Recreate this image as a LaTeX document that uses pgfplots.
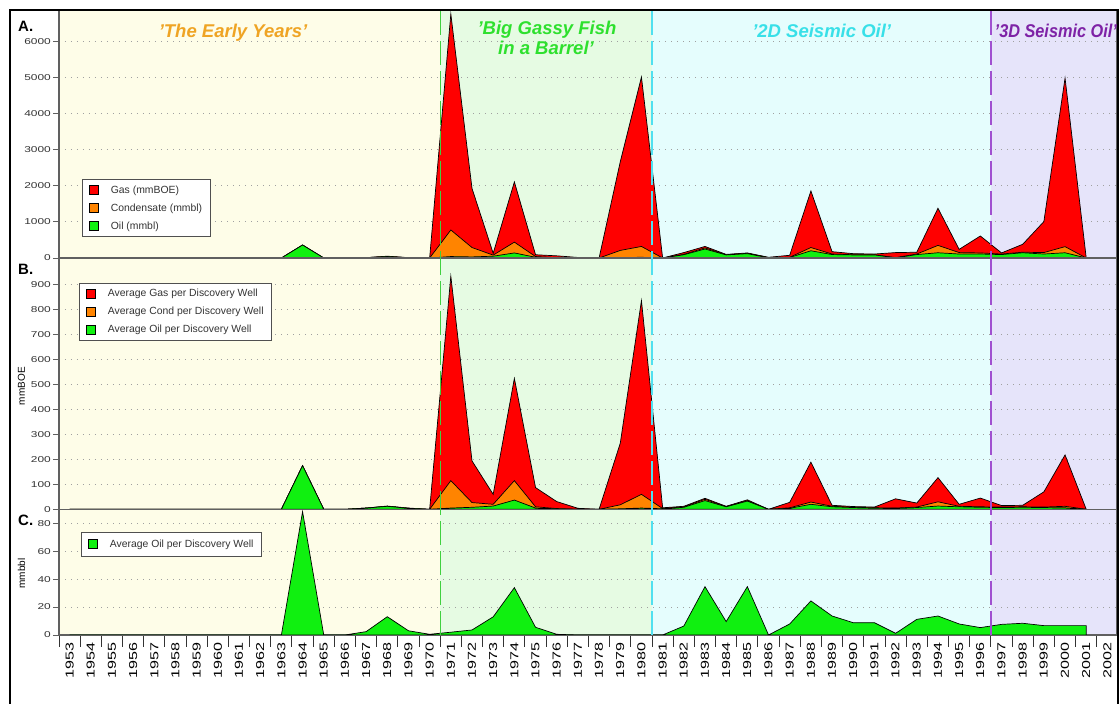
\documentclass[border=0pt]{standalone}
\usepackage{pgfplots}
\pgfplotsset{compat=1.18}
\usepackage{pgfplotstable}
\usepackage{fontspec}
\setmainfont{Liberation Sans}
\newfontfamily\stretchfont[FakeStretch=1.4]{Liberation Sans}
\newfontfamily\labfont[FakeStretch=1.3]{Liberation Sans}

\definecolor{bgearly}{HTML}{FEFDE8}
\definecolor{bggassy}{HTML}{E6FBE3}
\definecolor{bgtwod}{HTML}{E5FDFD}
\definecolor{bgthreed}{HTML}{E6E4FA}
\definecolor{gasred}{HTML}{FF0000}
\definecolor{condorange}{HTML}{FF8400}
\definecolor{oilgreen}{HTML}{10F010}
\definecolor{axisgray}{HTML}{606060}
\definecolor{gridgray}{HTML}{A0A0A0}
\definecolor{ticktext}{HTML}{333333}
\definecolor{legendgray}{HTML}{505050}
\definecolor{tearly}{HTML}{EFA424}
\definecolor{tgassy}{HTML}{2EE02E}
\definecolor{ttwod}{HTML}{38E0E8}
\definecolor{tthreed}{HTML}{7E22A6}
\definecolor{lgreen}{HTML}{40D040}
\definecolor{lcyan}{HTML}{50E0F0}
\definecolor{lpurple}{HTML}{A050D0}

\pgfplotstableread{
year gas cond oil
1953 0 0 0
1954 0 0 0
1955 0 0 0
1956 0 0 0
1957 0 0 0
1958 0 0 0
1959 0 0 0
1960 0 0 0
1961 0 0 0
1962 0 0 0
1963 0 0 0
1964 360 360 360
1965 0 0 0
1966 0 0 0
1967 10 10 10
1968 50 42 40
1969 10 8 8
1970 0 0 0
1971 6770 777 40
1972 1930 290 30
1973 130 80 50
1974 2110 440 140
1975 90 40 20
1976 60 10 5
1977 15 0 0
1978 0 0 0
1979 2670 210 10
1980 5020 320 20
1981 0 0 0
1982 150 100 90
1983 320 280 250
1984 100 90 85
1985 140 130 120
1986 20 10 5
1987 75 20 15
1988 1860 290 200
1989 175 110 95
1990 120 90 85
1991 110 90 85
1992 150 10 5
1993 160 110 95
1994 1380 350 145
1995 240 150 110
1996 610 140 110
1997 140 110 95
1998 380 160 145
1999 1010 150 110
2000 4990 315 145
2001 0 0 0
}\dataA

\pgfplotstableread{
year gas cond oil
1953 0 0 0
1954 0 0 0
1955 0 0 0
1956 0 0 0
1957 0 0 0
1958 0 0 0
1959 0 0 0
1960 0 0 0
1961 0 0 0
1962 0 0 0
1963 0 0 0
1964 175 175 175
1965 0 0 0
1966 0 0 0
1967 5 5 5
1968 13 12 12
1969 5 4 4
1970 0 0 0
1971 935 115 5
1972 194 27 8
1973 60 20 13
1974 525 115 37
1975 87 10 5
1976 31 3 2
1977 4 0 0
1978 0 0 0
1979 265 18 2
1980 837 60 5
1981 6 3 2
1982 12 10 8
1983 44 40 35
1984 12 11 10
1985 38 35 33
1986 0 0 0
1987 28 6 4
1988 189 29 20
1989 16 12 10
1990 11 8 7
1991 9 6 5
1992 42 5 4
1993 25 9 7
1994 127 30 13
1995 20 12 10
1996 45 10 8
1997 15 9 7
1998 16 10 8
1999 70 9 7
2000 218 12 6
2001 0 0 0
}\dataB

\pgfplotstableread{
year oil
1953 0
1954 0
1955 0
1956 0
1957 0
1958 0
1959 0
1960 0
1961 0
1962 0
1963 0
1964 88.3
1965 0
1966 0
1967 2.4
1968 13.1
1969 3
1970 0.5
1971 2
1972 3.6
1973 13
1974 33.9
1975 5.5
1976 0.5
1977 0
1978 0
1979 0
1980 0
1981 0
1982 6.4
1983 34.6
1984 9.6
1985 34.6
1986 0
1987 7.9
1988 24.4
1989 13.6
1990 8.8
1991 8.8
1992 1.2
1993 11.2
1994 13.6
1995 7.9
1996 5.3
1997 7.6
1998 8.4
1999 6.7
2000 6.7
2001 6.7
}\dataC

\pgfplotsset{
  panel/.style={
    scale only axis, width=1058pt,
    xmin=1952.5, xmax=2002.45, ymin=0,
    axis line style={draw=axisgray, line width=1.3pt},
    ymajorgrids,
    grid style={draw=gridgray, line width=0.9pt, dash pattern=on 1pt off 5pt},
    ytick pos=left,
    tick align=outside,
    major tick length=6pt, minor tick length=12pt,
    tick style={draw=axisgray, line width=0.9pt},
    scaled y ticks=false,
    /pgf/number format/assume math mode=true,
    /pgf/number format/1000 sep={},
    yticklabel style={font=\stretchfont\fontsize{8.5}{9}\selectfont, text=ticktext, inner sep=2pt},
    ylabel style={font=\labfont\fontsize{9.4}{10}\selectfont, text=ticktext},
    every axis y label/.style={at={(axis description cs:-0.0355,0.49)}, rotate=90, anchor=center},
    legend cell align=left,
    legend image code/.code={\draw[##1,draw=black,line width=0.6pt] (0pt,-4.5pt) rectangle (9pt,4.5pt); \path[draw=none,fill=none] (0pt,0pt) -- (20pt,0pt);},
    legend style={draw=legendgray, line width=1.2pt, fill=white, text=ticktext,
      font=\fontsize{10.4}{11}\selectfont, row sep=5pt, inner xsep=6pt, inner ysep=4pt, anchor=north west},
  },
  area/.style={draw=black, line width=0.7pt},
}

\begin{document}
\begin{tikzpicture}[x=1pt,y=1pt]
\useasboundingbox (0,0) rectangle (1120,704);
\fill[white] (0,0) rectangle (1120,704);

% era backgrounds
\begin{axis}[at={(59pt,69pt)}, anchor=south west, scale only axis, width=1058pt, height=625pt,
  xmin=1952.5, xmax=2002.45, ymin=0, ymax=1, hide axis]
\fill[bgearly] (axis cs:1952.5,0) rectangle (axis cs:1970.5,1);
\fill[bggassy] (axis cs:1970.5,0) rectangle (axis cs:1980.5,1);
\fill[bgtwod] (axis cs:1980.5,0) rectangle (axis cs:1996.5,1);
\fill[bgthreed] (axis cs:1996.5,0) rectangle (axis cs:2002.45,1);
\end{axis}

% Panel A
\begin{axis}[panel, at={(59pt,446pt)}, anchor=south west, height=248pt,
  ymax=6880, ytick={0,1000,...,6000}, xtick=\empty,
  legend style={at={(0.0217,0.3185)}}]
\addplot[area, fill=gasred] table[x=year,y=gas]{\dataA} \closedcycle;
\addplot[area, fill=condorange] table[x=year,y=cond]{\dataA} \closedcycle;
\addplot[area, fill=oilgreen] table[x=year,y=oil]{\dataA} \closedcycle;
\legend{Gas (mmBOE), Condensate (mmbl), Oil (mmbl)}
\end{axis}

% Panel B
\begin{axis}[panel, at={(59pt,194.7pt)}, anchor=south west, height=251.3pt,
  ymax=1008, ytick={0,100,...,900}, xtick=\empty, ylabel={mmBOE},
  legend style={at={(0.0189,0.9017)}}]
\addplot[area, fill=gasred] table[x=year,y=gas]{\dataB} \closedcycle;
\addplot[area, fill=condorange] table[x=year,y=cond]{\dataB} \closedcycle;
\addplot[area, fill=oilgreen] table[x=year,y=oil]{\dataB} \closedcycle;
\legend{Average Gas per Discovery Well, Average Cond per Discovery Well, Average Oil per Discovery Well}
\end{axis}

% Panel C
\begin{axis}[panel, at={(59pt,69pt)}, anchor=south west, height=125.7pt,
  ymax=90, ytick={0,20,...,80}, ylabel={mmbbl},
  xtick={1953,1954,...,2002},
  minor xtick={1952.5,1953.5,...,2001.5},
  xtick pos=bottom,
  major x tick style={draw=none},
  minor x tick style={draw=black!80, line width=1pt},
  xticklabel style={rotate=90, anchor=east, font=\stretchfont\fontsize{11.5}{12}\selectfont, text=black, inner sep=1pt},
  legend style={at={(0.0208,0.822)}, inner ysep=5.5pt}]
\addplot[area, fill=oilgreen] table[x=year,y=oil]{\dataC} \closedcycle;
\legend{Average Oil per Discovery Well}
\end{axis}

% era lines
\begin{axis}[at={(59pt,69pt)}, anchor=south west, scale only axis, width=1058pt, height=625pt,
  xmin=1952.5, xmax=2002.45, ymin=0, ymax=1, hide axis, clip=false]
\draw[lgreen, line width=1.3pt, dash pattern=on 24pt off 6pt] (axis cs:1970.5,0) -- (axis cs:1970.5,1);
\draw[lcyan, line width=1.3pt, dash pattern=on 24pt off 6pt] (axis cs:1980.5,0) -- (axis cs:1980.5,1);
\draw[lpurple, line width=1.3pt, dash pattern=on 24pt off 6pt] (axis cs:1996.5,0) -- (axis cs:1996.5,1);
\end{axis}

% titles
\node[anchor=base, text=tearly, font=\bfseries\itshape\fontsize{18.5}{20}\selectfont] at (233,666.7) {'The Early Years'};
\node[anchor=base, text=tgassy, font=\bfseries\itshape\fontsize{18.5}{20}\selectfont] at (547,669) {'Big Gassy Fish};
\node[anchor=base, text=tgassy, font=\bfseries\itshape\fontsize{18.5}{20}\selectfont] at (546,649) {in a Barrel'};
\node[anchor=base, text=ttwod, font=\bfseries\itshape\fontsize{18.5}{20}\selectfont] at (821.7,666.7) {'2D Seismic Oil'};
\node[anchor=base, text=tthreed, font=\bfseries\itshape\fontsize{18.5}{20}\selectfont] at (1055.8,666.7) {\scalebox{0.88}[1]{'3D Seismic Oil'}};

% panel letters
\node[anchor=base west, font=\bfseries\fontsize{15}{16}\selectfont, inner sep=0pt] at (18,672.3) {A.};
\node[anchor=base west, font=\bfseries\fontsize{15}{16}\selectfont, inner sep=0pt] at (18,429) {B.};
\node[anchor=base west, font=\bfseries\fontsize{15}{16}\selectfont, inner sep=0pt] at (18,178) {C.};

% outer frame
\draw[black, line width=1.6pt] (10,-10) rectangle (1118,694);
\end{tikzpicture}
\end{document}
